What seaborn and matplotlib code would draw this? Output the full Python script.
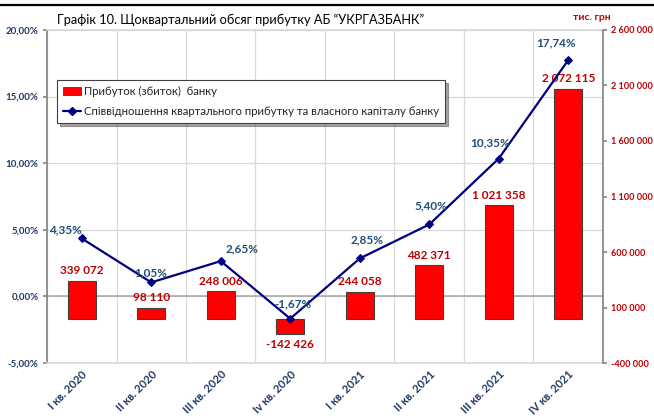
import numpy as np
import matplotlib
matplotlib.use('Agg')
import matplotlib.pyplot as plt
import seaborn as sns
from matplotlib.lines import Line2D
from matplotlib.patches import Patch

# data
quarters = ['I кв. 2020', 'II кв. 2020', 'III кв. 2020', 'Iv кв. 2020',
            'I кв. 2021', 'II кв. 2021', 'III кв. 2021', 'IV кв. 2021']
profit = [339072, 98110, 248006, -142426, 244058, 482371, 1021358, 2072115]
ratio = [4.35, 1.05, 2.65, -1.67, 2.85, 5.40, 10.35, 17.74]

# label offsets in pixels (dx, dy) for the ratio labels
ratio_label_offsets = [(-16, 9), (-1, 10), (21, 12), (3, 15), (7, 19), (2, 19), (-9, 16), (-12, 17)]

sns.set_theme(style='white')
plt.rcParams['font.family'] = ['Lato', 'DejaVu Sans']

BAR_RED = '#FF0000'
LBL_RED = '#C00000'
NAVY = '#000080'
LBL_BLUE = '#1F4E79'
TICK_BLUE = '#1F3864'


def fmt_thousands(v):
    s = f'{abs(v):,}'.replace(',', ' ')
    return ('-' if v < 0 else '') + s


fig = plt.figure(figsize=(6.54, 4.19), dpi=100)
ax = fig.add_axes([47 / 654, 1 - 363 / 419, (603 - 47) / 654, (363 - 30) / 419])
x = np.arange(len(quarters))

# --- primary axis: percent scale, grid
ax.set_xlim(-0.5, len(quarters) - 0.5)
ax.set_ylim(-5, 20)
ax.set_yticks(np.arange(-5, 20.1, 5))
ax.set_yticklabels([f'{v:.2f}%'.replace('.', ',') for v in np.arange(-5, 20.1, 5)],
                   fontsize=7, fontweight='bold', color=TICK_BLUE)
ax.yaxis.grid(True, color='#D9D9D9', lw=0.9)
ax.set_xticks(np.arange(-0.5, len(quarters), 1), minor=True)
ax.xaxis.grid(True, which='minor', color='#D9D9D9', lw=0.9)
ax.axhline(0, color='#A6A6A6', lw=1.1, zorder=1)
ax.tick_params(axis='y', which='major', left=True, length=3, color='#868686', pad=3)
ax.tick_params(axis='x', which='both', length=0)
for side in ['top', 'bottom']:
    ax.spines[side].set_color('#D9D9D9')
ax.spines['left'].set_color('#868686')
ax.spines['right'].set_visible(False)

# --- bars on the right axis
ax_bar = ax.twinx()
sns.barplot(x=x, y=profit, ax=ax_bar, color=BAR_RED, saturation=1, width=0.4,
            edgecolor='#404040', linewidth=0.8, native_scale=True)
ax_bar.set_xlim(-0.5, len(quarters) - 0.5)
ax_bar.set_ylim(-400000, 2600000)
rticks = np.arange(-400000, 2600001, 500000)
ax_bar.set_yticks(rticks)
ax_bar.set_yticklabels([fmt_thousands(int(v)) for v in rticks],
                       fontsize=6.6, fontweight='bold', color=LBL_RED)
ax_bar.tick_params(axis='y', right=True, length=3, color='#868686', pad=2.5)
for side in ['top', 'bottom', 'left']:
    ax_bar.spines[side].set_visible(False)
ax_bar.spines['right'].set_color('#868686')
ax_bar.set_ylabel('')
for xi, v in zip(x, profit):
    off = 10 if v >= 0 else -10
    ax_bar.annotate(fmt_thousands(v), (xi, v), xytext=(0, off), textcoords='offset pixels',
                    ha='center', va='center', fontsize=8.5, fontweight='bold', color=LBL_RED)

# --- ratio line on top
ax_line = ax.twinx()
ax_line.set_ylim(-5, 20)
ax_line.set_xlim(-0.5, len(quarters) - 0.5)
sns.lineplot(x=x, y=ratio, ax=ax_line, color=NAVY, lw=1.6, marker='D',
             markersize=4.5, markeredgecolor=NAVY)
ax_line.axis('off')
for xi, v, (dx, dy) in zip(x, ratio, ratio_label_offsets):
    ax_line.annotate(f'{v:.2f}%'.replace('.', ','), (xi, v), xytext=(dx, dy),
                     textcoords='offset pixels', ha='center', va='center',
                     fontsize=8.5, fontweight='bold', color=LBL_BLUE)

# x tick labels on the primary axis
ax.set_xticks(x)
ax.set_xticklabels(quarters, rotation=45, ha='right', rotation_mode='anchor',
                   fontsize=8, fontweight='bold', color=TICK_BLUE)
ax.tick_params(axis='x', which='major', pad=4)

# titles
fig.text(57 / 654, 1 - 20 / 419, 'Графік 10. Щоквартальний обсяг прибутку АБ “УКРГАЗБАНК”',
         fontsize=9.2, color='black', va='center', ha='left')
fig.text(592 / 654, 1 - 17 / 419, 'тис. грн', fontsize=7.5, fontweight='bold',
         color=LBL_RED, va='center', ha='center')

# legend
handles = [Patch(facecolor=BAR_RED, edgecolor='#404040', lw=0.6),
           Line2D([0], [0], color=NAVY, lw=1.6, marker='D', markersize=4)]
labels = ['Прибуток (збиток)  банку',
          'Співвідношення квартального прибутку та власного капіталу банку']
leg = fig.legend(handles, labels, loc='upper left', bbox_to_anchor=(57 / 654, 1 - 80 / 419),
                 fontsize=8.2, frameon=True, fancybox=False, shadow=True, edgecolor='#404040',
                 handlelength=1.6, handletextpad=0.2, borderpad=0.55, labelspacing=0.75,
                 borderaxespad=0)
leg.get_frame().set_linewidth(0.8)

# top frame line
fig.add_artist(Line2D([0, 1], [1 - 5 / 419, 1 - 5 / 419], color='black', lw=1.6,
                      transform=fig.transFigure))

fig.savefig('out.png', dpi=100)
